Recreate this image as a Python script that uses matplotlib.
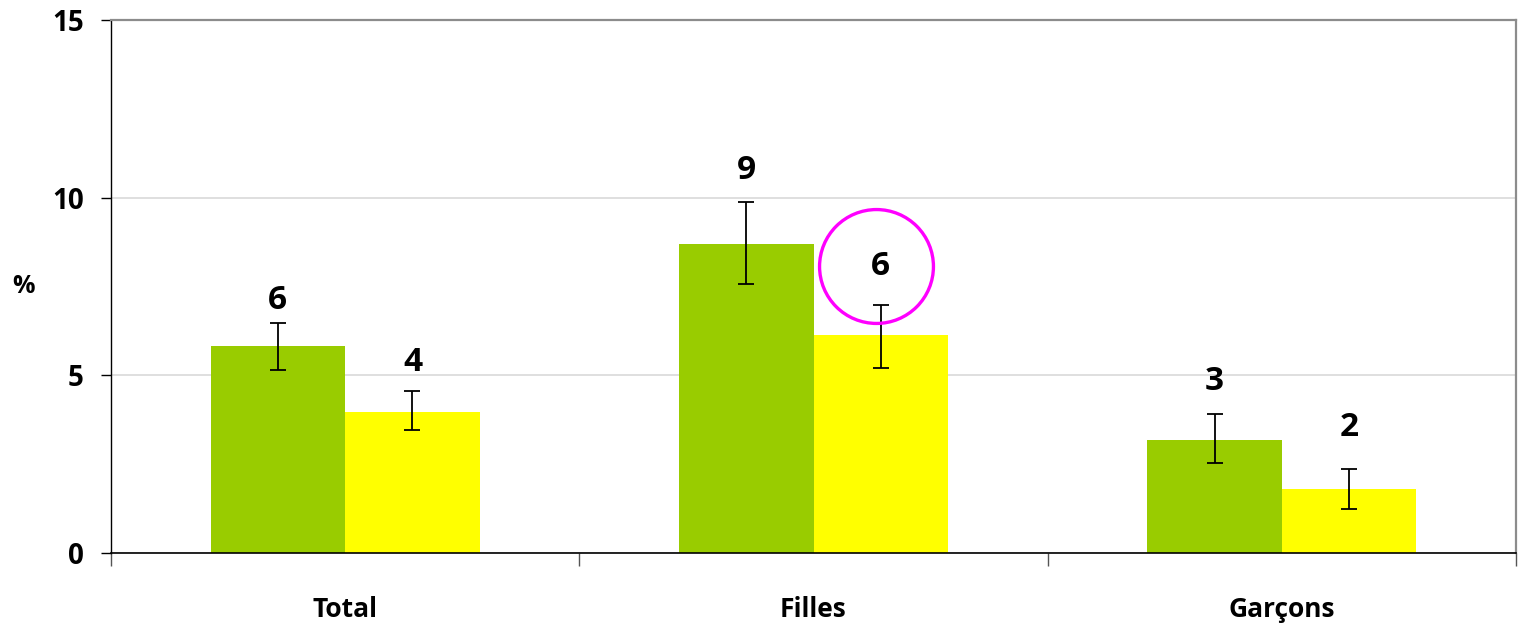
import numpy as np
import matplotlib
matplotlib.use("Agg")
import matplotlib.pyplot as plt
from matplotlib.transforms import ScaledTranslation

# data (%)
categories = ["Total", "Filles", "Garçons"]
green_vals = [5.82, 8.69, 3.19]
green_lo = [5.16, 7.57, 2.54]
green_hi = [6.47, 9.87, 3.92]
yellow_vals = [3.98, 6.13, 1.81]
yellow_lo = [3.46, 5.22, 1.24]
yellow_hi = [4.57, 6.98, 2.36]

# layout
GREEN = "#99cc00"
YELLOW = "#ffff00"
BAR_W = 0.2875
# label offsets above the error bar (points), as placed in the original
green_offs = [16, 23, 23]
yellow_offs = [20, 28, 30]
HIGHLIGHT = (1, "yellow")  # circled label: Filles, second series

plt.rcParams["font.family"] = ["Open Sans", "DejaVu Sans"]
plt.rcParams["font.weight"] = "bold"

fig = plt.figure(figsize=(15.24, 6.26), dpi=100)
ax = fig.add_axes([111 / 1524, 1 - 553 / 626, (1516 - 111) / 1524, (553 - 20) / 626])

x = np.arange(len(categories)) + 0.5

series = [
    (green_vals, green_lo, green_hi, GREEN, -BAR_W / 2, green_offs, "green"),
    (yellow_vals, yellow_lo, yellow_hi, YELLOW, BAR_W / 2, yellow_offs, "yellow"),
]
for vals, lo, hi, color, shift, offs, name in series:
    vals = np.array(vals)
    lo, hi = np.array(lo), np.array(hi)
    xs = x + shift
    ax.bar(xs, vals, width=BAR_W, color=color, zorder=2)
    ax.errorbar(xs, vals, yerr=[vals - lo, hi - vals], fmt="none",
                ecolor="black", elinewidth=1.3, capsize=5.8, capthick=1.3, zorder=3)
    for i, (xi, h, v) in enumerate(zip(xs, hi, vals)):
        ax.annotate(f"{int(round(v))}", (xi, h), xytext=(0, offs[i]),
                    textcoords="offset points", ha="center", va="center",
                    fontsize=24, fontweight="bold", zorder=4)
        if (i, name) == HIGHLIGHT:
            # magenta circle around the label
            shift_tr = ScaledTranslation(-3.5 / 72, offs[i] / 72, fig.dpi_scale_trans)
            ax.plot([xi], [h], marker="o", markersize=82, markerfacecolor="none",
                    markeredgecolor="#ff00ff", markeredgewidth=2.4, zorder=5,
                    transform=ax.transData + shift_tr)

ax.set_xlim(0, 3)
ax.set_ylim(0, 15)
ax.set_yticks([0, 5, 10, 15])
ax.yaxis.grid(True, color="#d9d9d9", lw=1.2, zorder=0)
ax.set_axisbelow(True)

ax.set_xticks(x)
ax.set_xticklabels(categories, fontsize=19, fontweight="bold")
ax.tick_params(axis="x", which="major", length=0, pad=31)
ax.set_xticks([0, 1, 2, 3], minor=True)
ax.tick_params(axis="x", which="minor", length=9, width=1, color="#555555")
ax.tick_params(axis="y", length=7.5, width=1, pad=12, labelsize=20)
for lab in ax.get_yticklabels():
    lab.set_fontweight("bold")

ax.set_ylabel("%", rotation=0, fontsize=18, fontweight="bold", va="center")
ax.yaxis.set_label_coords(-0.062, 0.5)

ax.spines["left"].set_color("black")
ax.spines["bottom"].set_color("black")
ax.spines["left"].set_linewidth(1)
ax.spines["bottom"].set_linewidth(1.2)
for s in ("top", "right"):
    ax.spines[s].set_color("#8c8c8c")
    ax.spines[s].set_linewidth(1.6)

fig.savefig("out.png", dpi=100)
